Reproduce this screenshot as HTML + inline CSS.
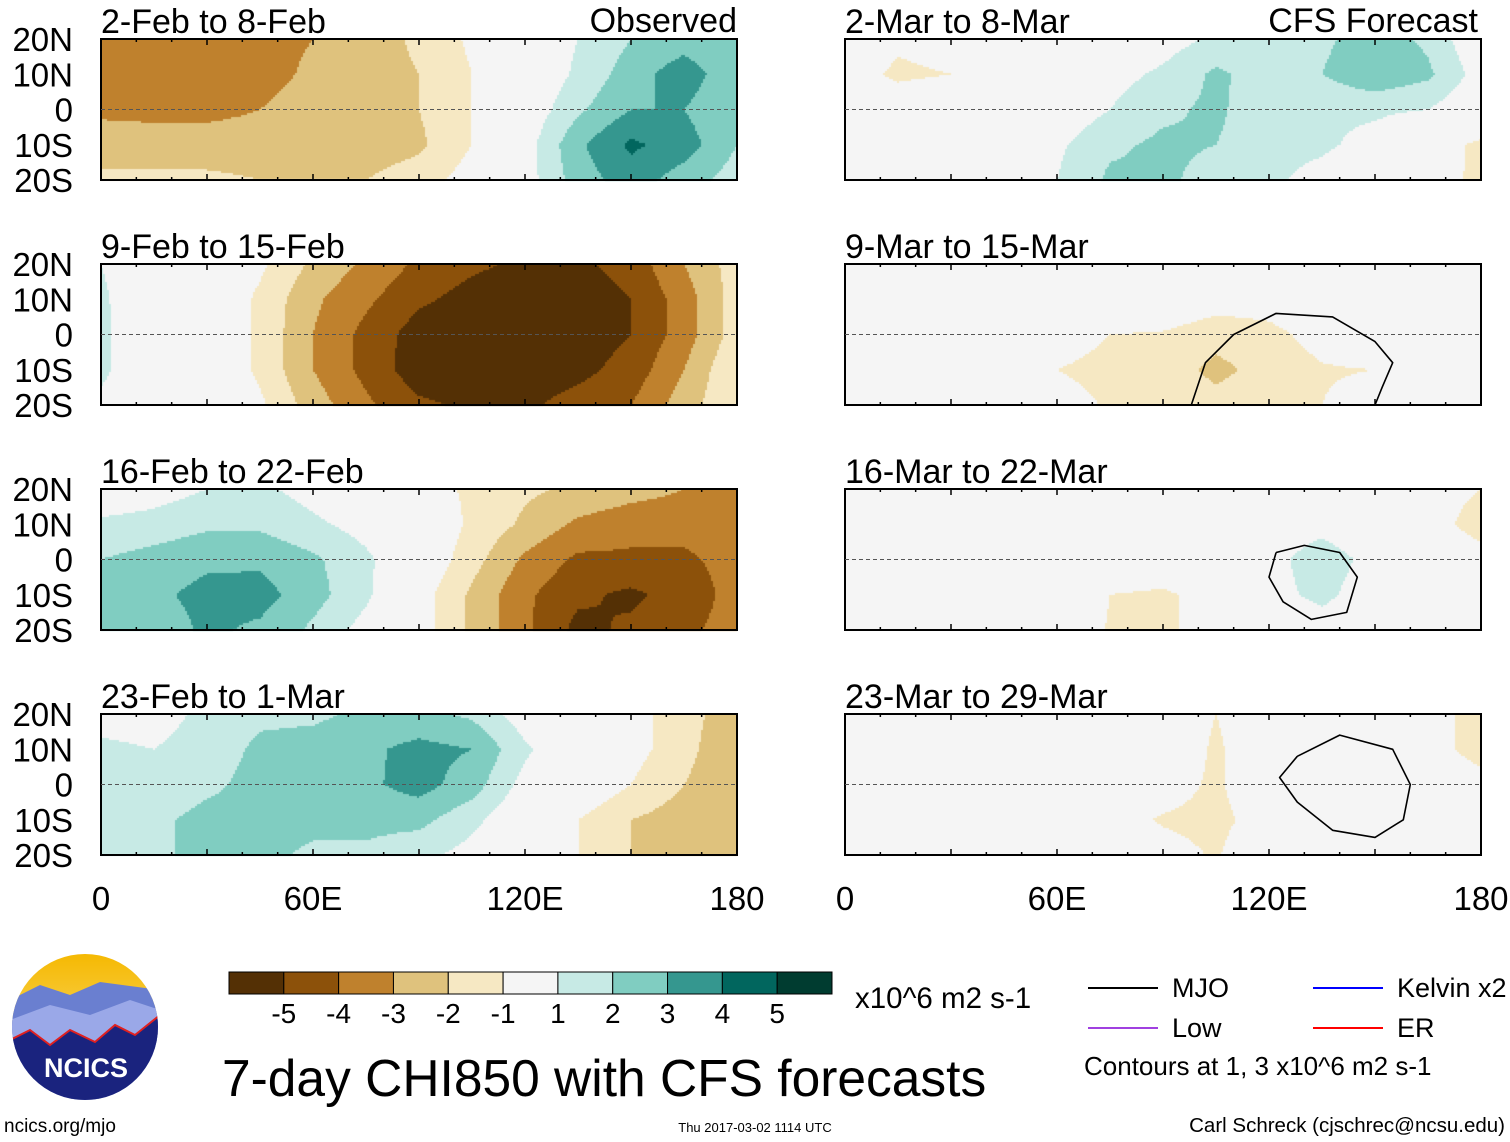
<!DOCTYPE html>
<html><head><meta charset="utf-8">
<style>
body{margin:0;background:#fff;width:1510px;height:1142px;overflow:hidden;position:relative;font-family:"Liberation Sans",sans-serif}
canvas{position:absolute}
svg{position:absolute;left:0;top:0}
</style></head>
<body>
<canvas id="cv" width="1510" height="1142" style="left:0;top:0"></canvas>
<svg id="sv" width="1510" height="1142"></svg>
<script>
// longitude grid 0..180 step 15, latitude rows 20N,10N,0,10S,20S
const lons=[0,15,30,45,60,75,90,105,120,135,150,165,180];
const lats=[20,10,0,-10,-20];
const levelColors=["#543005","#8c510a","#bf812d","#dfc27d","#f6e8c3","#f5f5f5","#c7eae5","#80cdc1","#35978f","#01665e","#003c30"];
const levelBounds=[-5,-4,-3,-2,-1,1,2,3,4,5];
const cbLabels=["-5","-4","-3","-2","-1","1","2","3","4","5"];
const xTicks=["0","60E","120E","180"];
const xTickLons=[0,60,120,180];
const yTicks=["20N","10N","0","10S","20S"];
const titles=["2-Feb to 8-Feb","2-Mar to 8-Mar","9-Feb to 15-Feb","9-Mar to 15-Mar","16-Feb to 22-Feb","16-Mar to 22-Mar","23-Feb to 1-Mar","23-Mar to 29-Mar"];
const p1=[[-3.6,-3.6,-3.5,-3.4,-3,-2.5,-1.8,-0.8,0,1,2,2.5,2],[-3.6,-3.6,-3.6,-3.4,-2.8,-2.5,-2,-1,0,1.2,2.5,3.6,2.2],[-3.2,-3.3,-3.3,-3,-2.5,-2.3,-2,-1,0.2,1.8,3,3,2],[-2.5,-2.5,-2.5,-2.5,-2.3,-2.5,-2.2,-1,0.5,2.8,4.2,3.5,2],[-1.8,-1.8,-1.8,-2,-2,-2,-1.5,-0.5,0.5,2.5,3.5,2.5,1.5]];
const p2=[[0,-0.8,-0.5,0,0,0,0.5,1.2,1.2,1.8,2.5,1.8,0],[-0.5,-1.2,-1,0,0,0.6,1.2,2.2,1.5,2,2.8,2.2,0.5],[0,-0.3,0,0,0.2,1,1.8,2.2,1.3,1.2,1.2,1,0],[0,0,0,0,0.8,1.8,2.2,2,1.4,1.2,0.6,-0.5,-1.2],[0,0,0,0,1,2.2,2.2,1.6,1.2,0.6,0,-0.6,-1.2]];
const p3=[[1,0,0,-0.8,-2.2,-3.2,-4.2,-4.8,-5.2,-5.2,-4.6,-3,-1.5],[1.2,0,0,-1.2,-2.8,-3.8,-4.8,-5.4,-5.6,-5.6,-5,-3.5,-1.5],[1.2,0.2,0,-1.2,-3,-4.3,-5.5,-5.6,-5.6,-5.6,-5,-3.5,-1.5],[1.2,0.2,0,-1.2,-3,-4.3,-5.6,-5.6,-5.6,-5.3,-4.6,-3,-1],[0.8,0,0,-0.8,-2.5,-3.8,-4.8,-5.2,-5.2,-4.6,-4,-2.5,-1]];
const p4=[[0,0,0,0,0,0,0,-0.5,-0.5,0,0,-0.5,-1],[0,0,0,0,0,0,0,-0.5,-0.5,0,0,-0.5,-1],[0,0,0,0,-0.5,-1,-1.1,-1.6,-1.3,-0.6,0,0,-0.5],[0,0,0,0,-1,-1.3,-1.4,-2.3,-1.6,-1.1,-1,-0.3,0],[0,0,0,0,-0.6,-1.1,-1.1,-1.6,-1.1,-1,-0.5,0,0]];
const p5=[[0.2,0.5,1,1.2,0.6,0,-0.5,-1.2,-1.8,-2.2,-2.6,-3,-3],[1.2,1.4,1.8,1.8,1.2,0.6,0,-1.2,-2.2,-3.2,-3.6,-3.6,-3.5],[2,2.4,2.8,2.8,2.2,1.2,0,-1.6,-3.2,-4.2,-4.2,-4.2,-3.6],[2.4,2.8,3.3,3.4,2.4,1.2,-0.5,-2.2,-3.8,-4.8,-5.2,-4.6,-3.6],[2.3,2.4,3.2,2.8,1.8,0.6,-0.5,-2.2,-3.8,-5.3,-4.8,-4.2,-3.6]];
const p6=[[0,1,0,0,0,0,0,0,0,0,0,-0.5,-1],[0,0,0,0,0,0,0,0,0.3,0.6,0,-0.5,-1.5],[0,0,0,0,0,0,0,0,0.6,1.6,0.6,0,-0.5],[0,0,0,0,0,-1,-1.2,-0.5,0.6,1.3,0.3,0,0],[0,0,0,0,0,-1.1,-1.2,-0.5,0,0.4,0,0,0]];
const p7=[[0.6,0.5,1.3,1.8,1.8,2.2,2.3,1.8,0.4,0,-0.6,-1.6,-2.6],[1.2,1,1.5,2.2,2.4,2.8,3.3,3,1.2,0,-0.6,-1.6,-3],[1.2,1.3,1.8,2.3,2.6,2.8,3.4,2.5,0.6,0,-1,-2,-3],[1.2,1.8,2.3,2.3,2.3,2.3,2.3,1.3,0,-1,-2,-2.5,-3],[1.2,1.8,2.3,2.3,1.8,1.8,1.3,0.6,0,-1,-2,-2.5,-3]];
const p8=[[0,0,0,0,0,0,0,-1,0,0,0,-0.5,-1.5],[0,0,0,0,0,0,0,-1.2,0,0,0,-0.5,-1.5],[0,0,0,0,0,0,-0.5,-1.2,0,0,0,0,-0.5],[0,0,0,0,0,-0.6,-1.1,-1.3,-0.5,0,0,0,0],[0,0,0,0,0,0,-0.6,-1.1,0,0,0,0,0]];
const fields=[p1,p2,p3,p4,p5,p6,p7,p8];
// MJO contour (black) lon/lat paths
const mjo4Lon=[98,102,110,122,138,150,155,152,150];
const mjo4Lat=[-20,-8,0,6,5,-2,-8,-15,-20];
const mjo6Lon=[122,130,140,145,142,132,124,120,122];
const mjo6Lat=[2,4,2,-5,-15,-17,-12,-5,2];
const mjo8Lon=[128,140,155,160,158,150,138,128,123,128];
const mjo8Lat=[8,14,10,0,-10,-15,-13,-5,2,8];

const W=636,H=141;
const pX=[101,845],pY=[39,264,489,714];
const cv=document.getElementById('cv'),ctx=cv.getContext('2d');
const sv=document.getElementById('sv');
const NS="http://www.w3.org/2000/svg";
function lonToX(x0,lon){return x0+lon/180*W;}
function latToY(y0,lat){return y0+(20-lat)/40*H;}
function colorFor(v){let i=0;while(i<levelBounds.length&&v>=levelBounds[i])i++;return levelColors[i];}
function sample(f,lon,lat){
  let fx=lon/15,fy=(20-lat)/10;
  let i=Math.min(11,Math.floor(fx)),j=Math.min(3,Math.floor(fy));
  let tx=fx-i,ty=fy-j;
  let a=f[j][i]*(1-tx)+f[j][i+1]*tx,b=f[j+1][i]*(1-tx)+f[j+1][i+1]*tx;
  return a*(1-ty)+b*ty;
}
function mk(tag,attrs,txt){const e=document.createElementNS(NS,tag);for(const k in attrs)e.setAttribute(k,attrs[k]);if(txt!==undefined)e.textContent=txt;sv.appendChild(e);return e;}
function txt(x,y,s,size,anchor,name){const e=mk('text',{x:x,y:y,'font-size':size,'text-anchor':anchor||'start',fill:'#000','font-family':'Liberation Sans, sans-serif'},s);

return e;}
function loop(x0,y0,lo,la,col,name){let d='';for(let k=0;k<lo.length;k++)d+=(k?'L':'M')+lonToX(x0,lo[k]).toFixed(1)+' '+latToY(y0,la[k]).toFixed(1);
const p=mk('path',{d:d,fill:'none',stroke:col,'stroke-width':1.6,'stroke-linejoin':'round'});

}

for(let p=0;p<8;p++){
  const x0=pX[p%2],y0=pY[Math.floor(p/2)],f=fields[p];
  for(let y=0;y<H;y+=2)for(let x=0;x<W;x+=2){
    ctx.fillStyle=colorFor(sample(f,(x+1)/W*180,20-(y+1)/H*40));
    ctx.fillRect(x0+x,y0+y,2,2);
  }
  const r=mk('rect',{x:x0,y:y0,width:W,height:H,fill:'none',stroke:'#000','stroke-width':2});
  
  
  const eq=mk('line',{x1:x0,x2:x0+W,y1:latToY(y0,0),y2:latToY(y0,0),stroke:'#555','stroke-dasharray':'4,3','stroke-width':1});
  
  
  for(let lo=0;lo<=180;lo+=10){
    const len=lo%30==0?6:3;
    mk('line',{x1:lonToX(x0,lo),x2:lonToX(x0,lo),y1:y0+H,y2:y0+H-len,stroke:'#000','stroke-width':1.5});
    mk('line',{x1:lonToX(x0,lo),x2:lonToX(x0,lo),y1:y0,y2:y0+len,stroke:'#000','stroke-width':1.5});
  }
  txt(x0,y0-6,titles[p],34,'start','panel-title');
  if(p%2==0){yTicks.forEach((t,k)=>txt(73,latToY(y0,lats[k])+12,t,33,'end','y-tick-label'));}
}
txt(737,32,'Observed',34,'end','observed-label');
txt(1478,32,'CFS Forecast',34,'end','cfs-forecast-label');
for(let c=0;c<2;c++)xTicks.forEach((t,k)=>txt(lonToX(pX[c],xTickLons[k]),910,t,33,'middle','x-tick-label'));
loop(pX[1],pY[1],mjo4Lon,mjo4Lat,'#000','mjo-contour');
loop(pX[1],pY[2],mjo6Lon,mjo6Lat,'#000','mjo-contour');
loop(pX[1],pY[3],mjo8Lon,mjo8Lat,'#000','mjo-contour');

// colorbar
const cbX=229,cbW=603/11;
levelColors.forEach((c,i)=>{const r=mk('rect',{x:cbX+i*cbW,y:972,width:cbW,height:22,fill:c,stroke:'#000','stroke-width':1});

});
cbLabels.forEach((l,i)=>txt(cbX+(i+1)*cbW,1023,l,28,'middle','colorbar-label'));
txt(855,1008,'x10^6 m2 s-1',29.5,'start','colorbar-units');
txt(222,1096,'7-day CHI850 with CFS forecasts',51.5,'start','figure-title');
// legend
[[1088,988,'#000','MJO'],[1313,988,'#0000ff','Kelvin x2'],[1088,1028,'#a040e0','Low'],[1313,1028,'#ff0000','ER']].forEach(a=>{
 const l=mk('line',{x1:a[0],x2:a[0]+70,y1:a[1],y2:a[1],stroke:a[2],'stroke-width':2});
 
 
 txt(a[0]+84,a[1]+9,a[3],27,'start','legend-entry');});
txt(1084,1075,'Contours at 1, 3 x10^6 m2 s-1',26,'start','contour-note');
txt(4,1132,'ncics.org/mjo',19,'start','url-label');
txt(755,1132,'Thu 2017-03-02 1114 UTC',13,'middle','timestamp');
txt(1505,1132,'Carl Schreck (cjschrec@ncsu.edu)',20.5,'end','author-credit');
// logo
const defs=mk('defs',{});
defs.innerHTML='<clipPath id="lc"><circle cx="85" cy="1027" r="73"/></clipPath><linearGradient id="sky" x1="0" y1="0" x2="0" y2="1"><stop offset="0" stop-color="#f5b800"/><stop offset="1" stop-color="#fbe89a"/></linearGradient>';
const g=mk('g',{'clip-path':'url(#lc)'});


g.innerHTML='<rect x="10" y="952" width="150" height="150" fill="url(#sky)"/><path d="M10 1000 L40 985 L70 995 L100 982 L160 990 L160 1102 L10 1102Z" fill="#6a7fd0"/><path d="M10 1020 L50 1005 L90 1015 L130 1000 L160 1010 L160 1102 L10 1102Z" fill="#9aa8e8"/><path d="M10 1040 L30 1030 L50 1045 L70 1030 L95 1042 L115 1025 L135 1035 L160 1015 L160 1102 L10 1102Z" fill="#1a237e" stroke="#e02020" stroke-width="2"/>';
const lt=txt(86,1077,'NCICS',27,'middle','logo-text');
lt.setAttribute('fill','#fff');
lt.setAttribute('font-weight','bold');
</script>
</body></html>
